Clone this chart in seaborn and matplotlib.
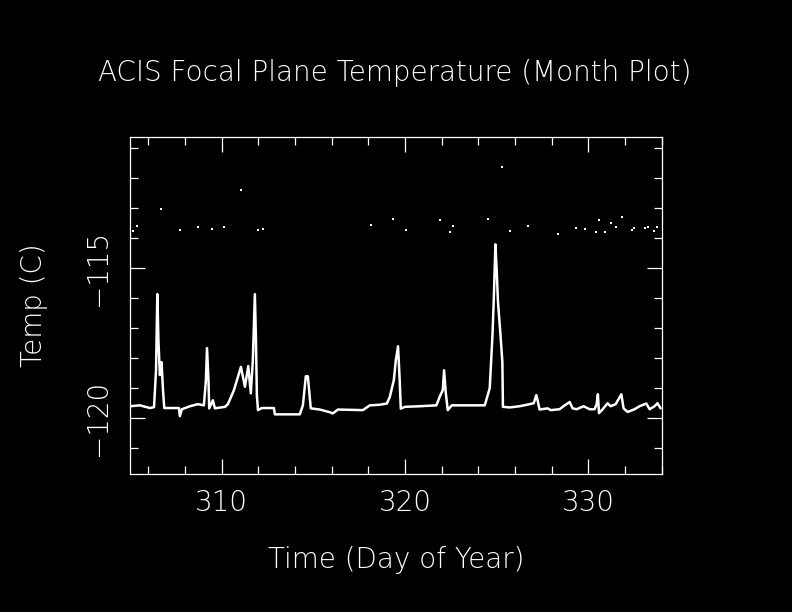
import matplotlib
matplotlib.use('Agg')
import matplotlib.pyplot as plt
import seaborn as sns
import pandas as pd
from matplotlib.ticker import MultipleLocator

# focal plane temperature trace (day of year, deg C)
days = [305.00, 305.54, 306.09, 306.31, 306.42, 306.49, 306.55, 306.63, 306.72, 306.80,
        306.87, 307.67, 307.72, 307.83, 308.27, 308.71, 309.03, 309.14, 309.20, 309.28,
        309.32, 309.52, 309.63, 310.18, 310.34, 310.67, 311.05, 311.27, 311.45, 311.59,
        311.70, 311.81, 311.87, 311.92, 311.98, 312.19, 312.85, 312.90, 314.26, 314.43,
        314.59, 314.70, 314.86, 315.35, 315.90, 316.06, 316.34, 317.70, 318.08, 318.62,
        319.01, 319.17, 319.39, 319.50, 319.62, 319.71, 319.77, 319.99, 320.80, 321.71,
        321.89, 322.06, 322.13, 322.22, 322.33, 322.55, 324.35, 324.51, 324.62, 324.77,
        324.84, 324.93, 325.00, 325.07, 325.22, 325.31, 325.34, 325.71, 326.25, 326.80,
        327.02, 327.16, 327.23, 327.34, 327.78, 327.94, 328.43, 328.71, 328.98, 329.14,
        329.36, 329.74, 330.07, 330.34, 330.45, 330.52, 330.58, 330.78, 331.05, 331.21,
        331.49, 331.80, 331.92, 332.14, 332.52, 332.79, 333.16, 333.34, 333.61, 333.77,
        333.94]
temps = [-119.60, -119.57, -119.66, -119.63, -118.40, -115.86, -117.39, -118.56, -118.13, -119.06,
         -119.66, -119.66, -119.93, -119.70, -119.60, -119.53, -119.57, -118.73, -117.66, -118.73,
         -119.67, -119.40, -119.67, -119.62, -119.53, -119.06, -118.29, -118.95, -118.26, -119.17,
         -118.06, -115.86, -117.39, -119.23, -119.73, -119.66, -119.66, -119.87, -119.87, -119.57,
         -118.60, -118.60, -119.67, -119.71, -119.80, -119.84, -119.71, -119.73, -119.57, -119.55,
         -119.51, -119.29, -118.73, -118.06, -117.60, -118.73, -119.68, -119.62, -119.60, -119.57,
         -119.29, -119.06, -118.40, -119.13, -119.73, -119.57, -119.57, -119.23, -119.00, -117.23,
         -116.06, -114.20, -115.06, -116.12, -117.33, -118.13, -119.62, -119.64, -119.60, -119.53,
         -119.50, -119.23, -119.40, -119.71, -119.67, -119.73, -119.70, -119.57, -119.46, -119.67,
         -119.70, -119.60, -119.70, -119.70, -119.53, -119.20, -119.83, -119.70, -119.50, -119.60,
         -119.53, -119.20, -119.67, -119.79, -119.70, -119.60, -119.51, -119.70, -119.60, -119.50,
         -119.67]

# stray readings above the trace
stray_days = [305.15, 305.36, 306.69, 307.72, 308.69, 309.45, 310.14, 311.05, 311.98, 312.23,
              318.13, 319.33, 320.04, 321.89, 322.48, 322.59, 324.53, 325.27, 325.75, 326.69,
              328.32, 329.31, 329.80, 330.40, 330.56, 330.89, 331.21, 331.49, 331.81, 332.36,
              332.47, 333.10, 333.23, 333.56, 333.72]
stray_temps = [-113.74, -113.60, -113.03, -113.71, -113.63, -113.68, -113.61, -112.39, -113.73, -113.70,
               -113.56, -113.36, -113.73, -113.40, -113.80, -113.60, -113.36, -111.63, -113.77, -113.60,
               -113.86, -113.66, -113.70, -113.80, -113.40, -113.80, -113.50, -113.63, -113.30, -113.73,
               -113.66, -113.66, -113.63, -113.77, -113.63]

df = pd.DataFrame({'day': days, 'temp': temps})
df_stray = pd.DataFrame({'day': stray_days, 'temp': stray_temps})

sns.set_theme(style='ticks', rc={
    'figure.facecolor': 'black', 'axes.facecolor': 'black',
    'axes.edgecolor': 'white', 'axes.labelcolor': 'white',
    'xtick.color': 'white', 'ytick.color': 'white', 'text.color': 'white',
    'axes.linewidth': 0.9,
})
plt.rcParams['font.family'] = ['DejaVu Sans']
plt.rcParams['font.weight'] = 'light'
plt.rcParams['axes.labelweight'] = 'light'

fig = plt.figure(figsize=(7.92, 6.12), dpi=100)
ax = fig.add_axes([130 / 792, 1 - 474 / 612, 531.7 / 792, 337 / 612])

sns.lineplot(data=df, x='day', y='temp', ax=ax, color='white', linewidth=1.8, estimator=None, sort=False)
sns.scatterplot(data=df_stray, x='day', y='temp', ax=ax, color='white', marker='s', s=3.5, linewidth=0)

ax.set_xlim(305, 334)
ax.set_ylim(-121.86, -110.62)
ax.xaxis.set_major_locator(MultipleLocator(10))
ax.xaxis.set_minor_locator(MultipleLocator(2))
ax.yaxis.set_major_locator(MultipleLocator(5))
ax.yaxis.set_minor_locator(MultipleLocator(1))
ax.tick_params(which='both', direction='in', top=True, right=True, width=0.9, labelsize=20)
ax.tick_params(which='major', length=10.5)
ax.tick_params(which='minor', length=5.5)
ax.tick_params(axis='x', pad=11)
ax.tick_params(axis='y', pad=13)
for lbl in ax.get_yticklabels():
    lbl.set_rotation(90)
    lbl.set_va('center')

ax.set_xlabel('Time (Day of Year)', fontsize=20, fontweight='light')
ax.set_ylabel('Temp (C)', fontsize=20, fontweight='light')
ax.xaxis.set_label_coords(0.5, -0.2136)
ax.yaxis.set_label_coords(-0.154, 0.5)
fig.text(0.4987, 1 - 73 / 612, 'ACIS Focal Plane Temperature (Month Plot)', ha='center', va='center',
         fontsize=20, fontweight='light')

fig.savefig('out.png', dpi=100, facecolor='black')
